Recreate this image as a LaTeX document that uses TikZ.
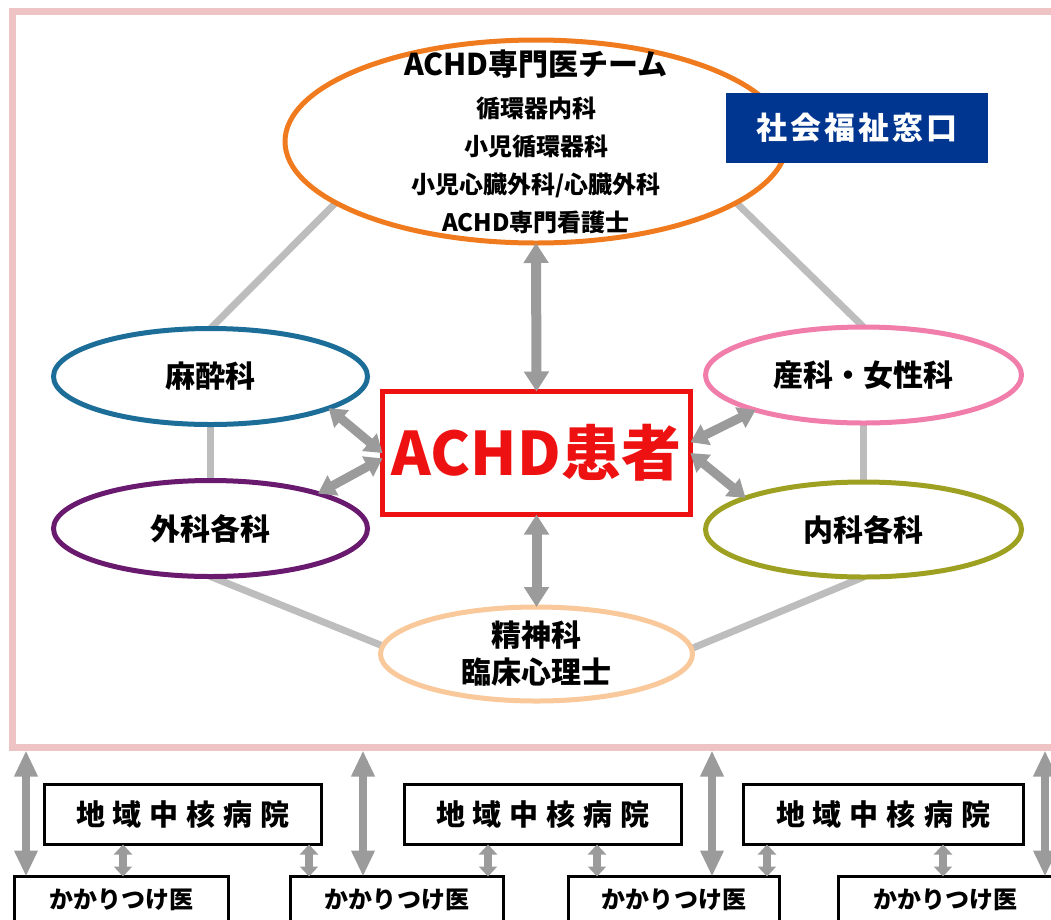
\documentclass[tikz,border=0pt]{standalone}
\usepackage{fontspec}
\setmainfont{Noto Sans CJK JP}
\usetikzlibrary{shapes.geometric,arrows.meta,backgrounds}
\definecolor{frameC}{HTML}{EDC3C3}
\definecolor{teamC}{HTML}{F07A1E}
\definecolor{masuiC}{HTML}{1C6E99}
\definecolor{gekaC}{HTML}{6A1A6E}
\definecolor{sankaC}{HTML}{F07DAA}
\definecolor{naikaC}{HTML}{9EA022}
\definecolor{seishinC}{HTML}{F9C89B}
\definecolor{redC}{HTML}{EE1111}
\definecolor{navyC}{HTML}{00368F}
\definecolor{lineC}{HTML}{BDBDBD}
\definecolor{arrowC}{HTML}{9B9B9B}
\begin{document}
\begin{tikzpicture}[x=1pt,y=-1pt,
  oval/.style={ellipse, draw, line width=5pt, minimum width=314pt, minimum height=96pt,
    inner sep=0pt, outer sep=0pt, fill=white, align=center,
    font=\fontsize{30}{37}\selectfont\bfseries},
  conn/.style={draw=lineC, line width=7pt},
  bigdbl/.style={draw=arrowC, line width=10pt,
    {Triangle[length=20pt,width=24pt]}-{Triangle[length=20pt,width=24pt]}},
  middbl/.style={draw=arrowC, line width=9pt,
    {Triangle[length=17pt,width=22pt]}-{Triangle[length=17pt,width=22pt]}},
  longdbl/.style={draw=arrowC, line width=8pt,
    {Triangle[length=26pt,width=22pt]}-{Triangle[length=26pt,width=22pt]}},
  smalldbl/.style={draw=arrowC, line width=8pt,
    {Triangle[length=10pt,width=18pt]}-{Triangle[length=10pt,width=18pt]}},
  hospbox/.style={draw=black, line width=3pt, minimum width=277pt, minimum height=60pt,
    inner sep=0pt, outer sep=0pt, font=\fontsize{29}{34}\selectfont\bfseries},
  gpbox/.style={draw=black, line width=3pt, minimum width=213pt, minimum height=47pt,
    inner sep=0pt, outer sep=0pt, font=\fontsize{24}{28}\selectfont\bfseries}
]
\useasboundingbox (0,0) rectangle (1051,919);

% outer frame
\node[draw=frameC, line width=7pt, minimum width=1049pt, minimum height=736pt,
  inner sep=0pt, outer sep=3.5pt] (frame) at (537,379) {};

% team ellipse
\node[oval, draw=teamC, minimum width=502pt, minimum height=203pt, inner ysep=-40pt,
  font=\fontsize{24}{38}\selectfont\bfseries] (team) at (536,141.5)
  {{\fontsize{30}{30}\selectfont ACHD専門医チーム}\\[4pt]
   循環器内科\\ 小児循環器科\\ 小児心臓外科/心臓外科\\ ACHD専門看護士};

% social welfare box
\node[fill=navyC, text=white, minimum width=262pt, minimum height=70pt, inner sep=0pt,
  font=\fontsize{31}{34}\selectfont\bfseries] (welfare) at (857,128)
  {社\kern3pt 会\kern3pt 福\kern3pt 祉\kern3pt 窓\kern3pt 口};

% department ellipses
\node[oval, draw=masuiC] (masui) at (210.5,376.5) {麻酔科};
\node[oval, draw=gekaC] (geka) at (210.5,528.5) {外科各科};
\node[oval, draw=sankaC, minimum width=316pt] (sanka) at (863.5,375) {産科・女性科};
\node[oval, draw=naikaC, minimum width=316pt, minimum height=95pt] (naika) at (863.5,529.5) {内科各科};
\node[oval, draw=seishinC, minimum width=312pt, minimum height=94pt, inner ysep=-10pt] (seishin) at (536.5,654)
  {精神科\\臨床心理士};

% patient box
\node[draw=redC, line width=5pt, minimum width=308pt, minimum height=123pt, inner sep=0pt,
  outer sep=0pt, text=redC, font=\fontsize{60}{64}\selectfont\bfseries] (achd) at (536.5,453)
  {ACHD患者};

% connectors behind
\begin{scope}[on background layer]
  \draw[conn] (team.197.5) -- (masui.north);
  \draw[conn] (team.343.5) -- (sanka.north);
  \draw[conn] (masui.south) -- (geka.north);
  \draw[conn] (sanka.south) -- (naika.north);
  \draw[conn] (geka.south) -- (seishin.177.5);
  \draw[conn] (naika.south) -- (seishin.2.5);
\end{scope}

% arrows around patient
\draw[bigdbl] (team.south) -- (achd.north);
\draw[bigdbl] (achd.south) -- (seishin.north);
\draw[middbl] (achd.180) -- (masui.-15);
\draw[middbl] (achd.182) -- (geka.18);
\draw[middbl] (achd.4) -- (sanka.198);
\draw[middbl] (achd.0) -- (naika.165);

% regional hospitals
\node[hospbox] (hosp1) at (183,814.5) {地\kern8pt 域\kern8pt 中\kern8pt 核\kern8pt 病\kern8pt 院};
\node[hospbox] (hosp2) at (543,814.5) {地\kern8pt 域\kern8pt 中\kern8pt 核\kern8pt 病\kern8pt 院};
\node[hospbox, minimum width=280pt] (hosp3) at (883,814.5) {地\kern8pt 域\kern8pt 中\kern8pt 核\kern8pt 病\kern8pt 院};

% family doctors
\node[gpbox, minimum width=214pt] (gp1) at (121.5,900) {かかりつけ医};
\node[gpbox] (gp2) at (397,900) {かかりつけ医};
\node[gpbox, minimum width=211pt] (gp3) at (674,900) {かかりつけ医};
\node[gpbox, minimum width=214pt] (gp4) at (945.5,900) {かかりつけ医};

% arrow x positions
\coordinate (L1) at (26,0);
\coordinate (L2) at (363,0);
\coordinate (L3) at (712,0);
\coordinate (L4) at (1045,0);
\coordinate (S1) at (123,0);
\coordinate (S2) at (309,0);
\coordinate (S3) at (488,0);
\coordinate (S4) at (597,0);
\coordinate (S5) at (767,0);
\coordinate (S6) at (943,0);

\draw[longdbl] (frame.south -| L1) -- (gp1.north -| L1);
\draw[longdbl] (frame.south -| L2) -- (gp2.north -| L2);
\draw[longdbl] (frame.south -| L3) -- (gp3.north -| L3);
\draw[longdbl] (frame.south -| L4) -- (gp4.north -| L4);

\draw[smalldbl] (hosp1.south -| S1) -- (gp1.north -| S1);
\draw[smalldbl] (hosp1.south -| S2) -- (gp2.north -| S2);
\draw[smalldbl] (hosp2.south -| S3) -- (gp2.north -| S3);
\draw[smalldbl] (hosp2.south -| S4) -- (gp3.north -| S4);
\draw[smalldbl] (hosp3.south -| S5) -- (gp3.north -| S5);
\draw[smalldbl] (hosp3.south -| S6) -- (gp4.north -| S6);
\end{tikzpicture}
\end{document}
